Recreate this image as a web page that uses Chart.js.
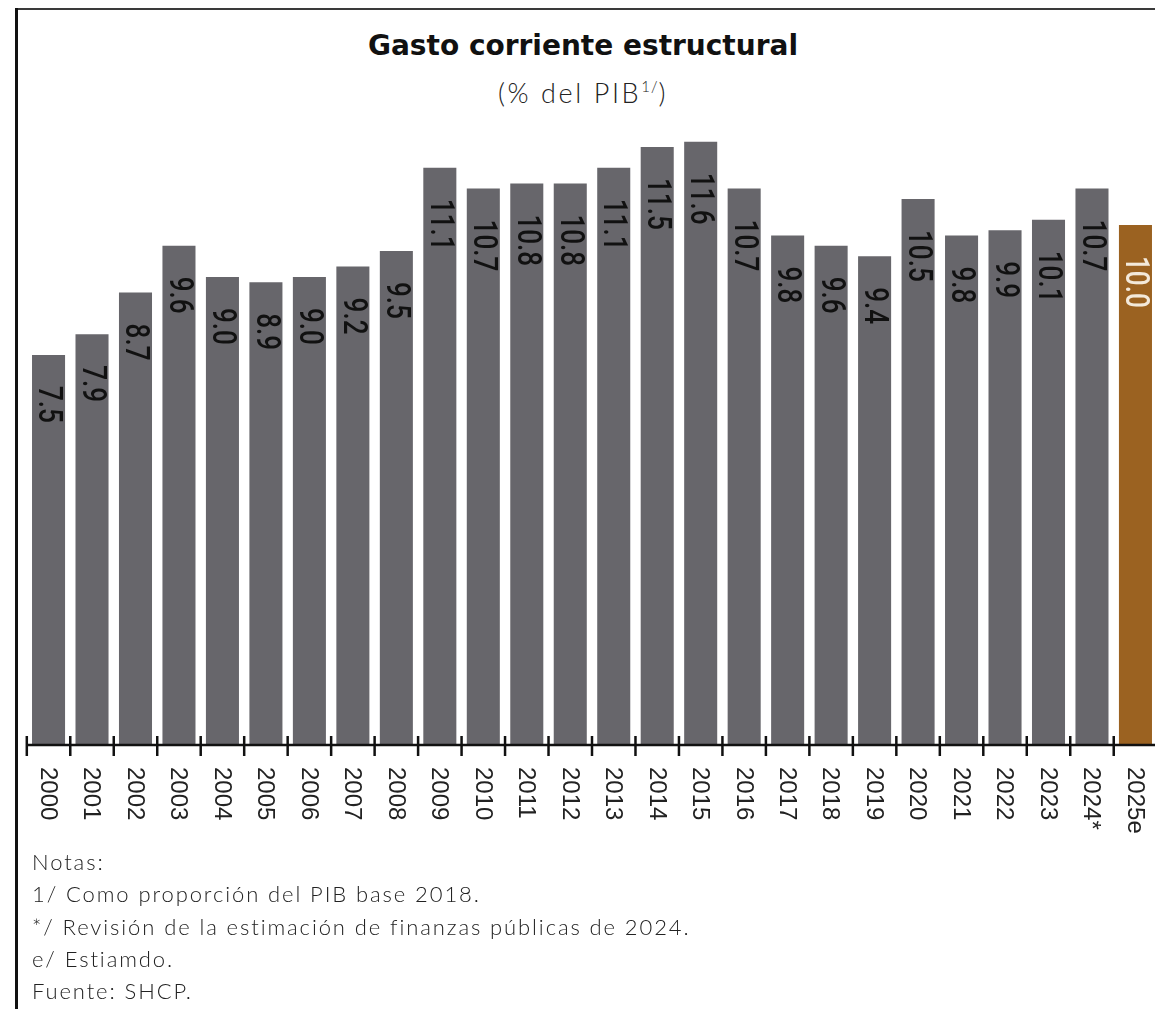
<!DOCTYPE html>
<html lang="es">
<head>
<meta charset="utf-8">
<script src="https://cdn.jsdelivr.net/npm/chart.js@4/dist/chart.umd.min.js"></script>
<style>
  html, body { margin: 0; padding: 0; background: #fff; overflow: hidden; }
  body { width: 1155px; height: 1009px; position: relative; }
  #frame-top { position: absolute; left: 15px; top: 8px; width: 1150px; height: 2px; background: #3a3a3a; }
  #frame-left { position: absolute; left: 15px; top: 8px; width: 2.5px; height: 1010px; background: #111; }
  #titulo { position: absolute; left: 0; width: 1166px; top: 29px; text-align: center; line-height: 28px;
    font: bold 28px "DejaVu Sans", sans-serif; color: #111; }
  #subtitulo { position: absolute; left: 0; width: 1166px; top: 74px; text-align: center; line-height: 27px;
    font-family: Lato, sans-serif; font-weight: 300; font-size: 27px; letter-spacing: 2.6px; color: #222; }
  #subtitulo sup { font-size: 15px; letter-spacing: 1px; position: relative; top: -1px; }
  #notas { position: absolute; left: 32px; top: 846px; font-family: Lato, sans-serif; font-weight: 300;
    font-size: 22px; letter-spacing: 1.9px; color: #222; line-height: 32.3px; }
  #wrap { position: absolute; left: 0; top: 0; width: 1160px; height: 1009px; }
</style>
</head>
<body>
<div id="frame-top"></div>
<div id="frame-left"></div>
<div id="titulo">Gasto corriente estructural</div>
<div id="subtitulo">(% del PIB<sup>1/</sup>)</div>
<div id="wrap"><canvas id="grafica"></canvas></div>
<div id="notas">
  Notas:<br>
  1/ Como proporción del PIB base 2018.<br>
  */ Revisión de la estimación de finanzas públicas de 2024.<br>
  e/ Estiamdo.<br>
  Fuente: SHCP.
</div>

<script>
// Datos
const anios = ['2000','2001','2002','2003','2004','2005','2006','2007','2008','2009','2010','2011','2012',
  '2013','2014','2015','2016','2017','2018','2019','2020','2021','2022','2023','2024*','2025e'];
const gasto = [7.5, 7.9, 8.7, 9.6, 9.0, 8.9, 9.0, 9.2, 9.5, 11.1, 10.7, 10.8, 10.8,
  11.1, 11.5, 11.6, 10.7, 9.8, 9.6, 9.4, 10.5, 9.8, 9.9, 10.1, 10.7, 10.0];
const yMax = 12;

const gris = '#67666b';
const cafe = '#9b6221';
const colores = anios.map((a, i) => i === anios.length - 1 ? cafe : gris);

// Etiquetas verticales dentro de las barras + eje con marcas
const etiquetasPlugin = {
    id: 'etiquetas',
    afterDatasetsDraw(chart) {
        const ctx = chart.ctx;
        const meta = chart.getDatasetMeta(0);
        meta.data.forEach((bar, i) => {
            ctx.save();
            ctx.translate(bar.x, bar.y + 31);
            ctx.rotate(Math.PI / 2);
            ctx.scale(0.79, 1);
            ctx.font = '500 33px Roboto, "Liberation Sans", sans-serif';
            ctx.textAlign = 'left';
            ctx.textBaseline = 'middle';
            ctx.fillStyle = i === anios.length - 1 ? '#f3e9da' : '#111';
            ctx.fillText(gasto[i].toFixed(1), 0, 1);
            ctx.restore();
        });
    },
    afterDraw(chart) {
        const ctx = chart.ctx;
        const x = chart.scales.x;
        const base = chart.scales.y.getPixelForValue(0);
        const paso = x.getPixelForValue(1) - x.getPixelForValue(0);
        const inicio = x.getPixelForValue(0) - paso / 2;

        ctx.save();
        ctx.strokeStyle = '#111';
        ctx.lineWidth = 2.5;
        ctx.beginPath();
        ctx.moveTo(inicio, base);
        ctx.lineTo(chart.width, base);
        ctx.stroke();
        for (let i = 0; i <= anios.length; i++) {
            const px = x.getPixelForValue(i) - paso / 2;
            ctx.beginPath();
            ctx.moveTo(px, base - 9);
            ctx.lineTo(px, base + 11);
            ctx.stroke();
        }

        ctx.font = '24px "Liberation Sans", Arial, sans-serif';
        ctx.fillStyle = '#222';
        ctx.textAlign = 'left';
        ctx.textBaseline = 'middle';
        anios.forEach((a, i) => {
            ctx.save();
            ctx.translate(x.getPixelForValue(i), base + 22);
            ctx.rotate(Math.PI / 2);
            ctx.fillText(a, 0, 1);
            ctx.restore();
        });
        ctx.restore();
    }
};

new Chart(document.getElementById('grafica'), {
    type: 'bar',
    data: {
        labels: anios,
        datasets: [{
            data: gasto,
            backgroundColor: colores,
            borderWidth: 0,
            barPercentage: 0.76,
            categoryPercentage: 1
        }]
    },
    options: {
        responsive: true,
        maintainAspectRatio: false,
        animation: false,
        events: [],
        layout: { padding: { left: 26.8, right: 2.8, top: 121, bottom: 264 } },
        scales: {
            x: { display: false },
            y: { display: false, min: 0, max: yMax }
        },
        plugins: { legend: { display: false }, tooltip: { enabled: false } }
    },
    plugins: [etiquetasPlugin]
});
</script>
</body>
</html>
